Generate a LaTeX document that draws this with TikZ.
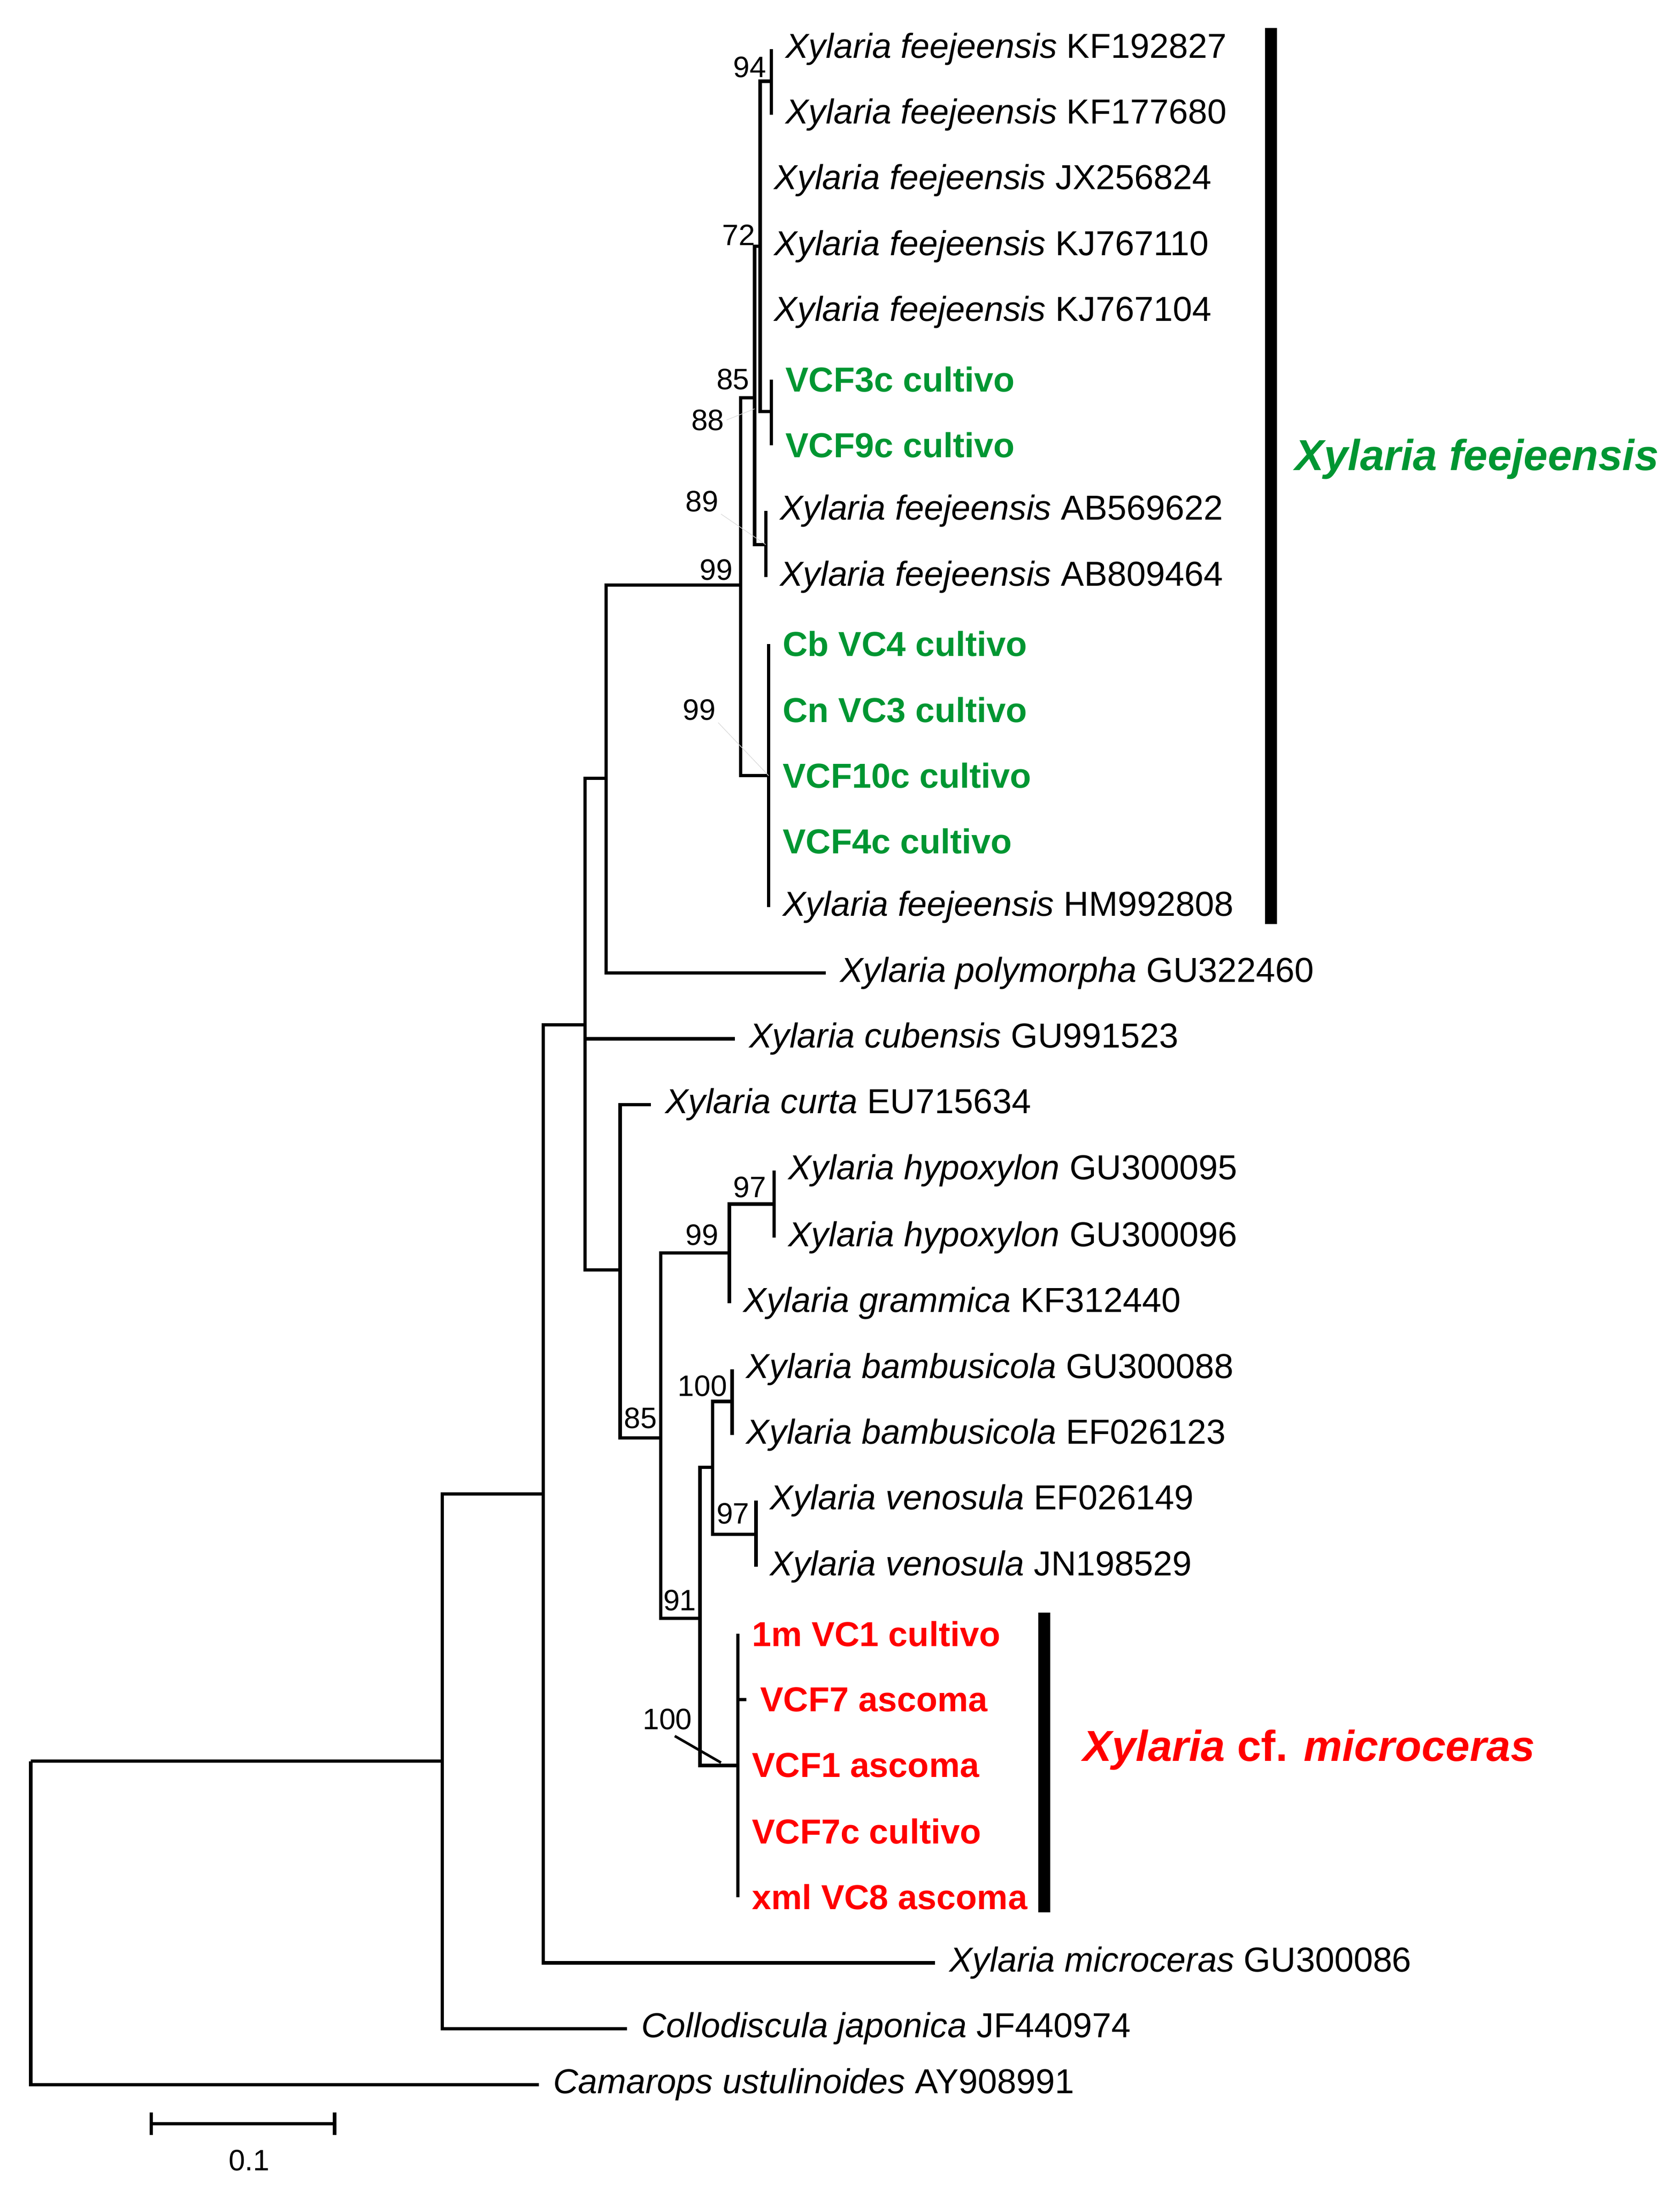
\documentclass[tikz,border=0pt]{standalone}
\usepackage{fontspec}
\setmainfont{Liberation Sans}
\usepackage{tikz}
\usetikzlibrary{positioning}
\definecolor{fgreen}{RGB}{0,150,50}
\definecolor{mred}{RGB}{255,0,0}
\tikzset{
  tip/.style={anchor=west,inner xsep=7pt,inner ysep=0pt,font=\fontsize{17.6}{20}\selectfont},
  gtip/.style={tip,text=fgreen,font=\fontsize{17.6}{20}\selectfont\bfseries},
  rtip/.style={tip,text=mred,font=\fontsize{17.6}{20}\selectfont\bfseries},
  boot/.style={anchor=east,inner sep=1pt,font=\fontsize{15}{18}\selectfont},
  branch/.style={line width=1.7pt},
  bar/.style={line width=6pt}
}
\newcommand{\xf}{\textit{Xylaria feejeensis}}
\begin{document}
\begin{tikzpicture}[x=0.025cm,y=-0.025cm]
  \useasboundingbox (0,0) rectangle (1200,1565);
  % tips
  \node[tip] (f1) at (551,35) {\xf{} KF192827};
  \node[tip] (f2) at (551,82) {\xf{} KF177680};
  \node[tip] (f3) at (543,129) {\xf{} JX256824};
  \node[tip] (f4) at (543,176) {\xf{} KJ767110};
  \node[tip] (f5) at (543,223) {\xf{} KJ767104};
  \node[gtip] (g1) at (551,271) {VCF3c cultivo};
  \node[gtip] (g2) at (551,318) {VCF9c cultivo};
  \node[tip] (f6) at (547,365) {\xf{} AB569622};
  \node[tip] (f7) at (547,412) {\xf{} AB809464};
  \node[gtip] (g3) at (549,460) {Cb VC4 cultivo};
  \node[gtip] (g4) at (549,507) {Cn VC3 cultivo};
  \node[gtip] (g5) at (549,554) {VCF10c cultivo};
  \node[gtip] (g6) at (549,601) {VCF4c cultivo};
  \node[tip] (f8) at (549,648) {\xf{} HM992808};
  \node[tip] (poly) at (590,695) {\textit{Xylaria polymorpha} GU322460};
  \node[tip] (cub) at (525,742) {\textit{Xylaria cubensis} GU991523};
  \node[tip] (curt) at (465,789) {\textit{Xylaria curta} EU715634};
  \node[tip] (hyp1) at (553,836) {\textit{Xylaria hypoxylon} GU300095};
  \node[tip] (hyp2) at (553,884) {\textit{Xylaria hypoxylon} GU300096};
  \node[tip] (gram) at (521,931) {\textit{Xylaria grammica} KF312440};
  \node[tip] (bam1) at (523,978) {\textit{Xylaria bambusicola} GU300088};
  \node[tip] (bam2) at (523,1025) {\textit{Xylaria bambusicola} EF026123};
  \node[tip] (ven1) at (540,1072) {\textit{Xylaria venosula} EF026149};
  \node[tip] (ven2) at (540,1119) {\textit{Xylaria venosula} JN198529};
  \node[rtip] (m1) at (527,1167) {1m VC1 cultivo};
  \node[rtip] (m2) at (533,1214) {VCF7 ascoma};
  \node[rtip] (m3) at (527,1261) {VCF1 ascoma};
  \node[rtip] (m4) at (527,1308) {VCF7c cultivo};
  \node[rtip] (m5) at (527,1355) {xml VC8 ascoma};
  \node[tip] (micr) at (668,1402) {\textit{Xylaria microceras} GU300086};
  \node[tip] (coll) at (448,1449) {\textit{Collodiscula japonica} JF440974};
  \node[tip] (cam) at (385,1489) {\textit{Camarops ustulinoides} AY908991};

  % internal nodes
  \coordinate (n94) at (551,58);
  \coordinate (n3c) at (551,294);
  \coordinate (n72) at (543,176);
  \coordinate (n89) at (547,389);
  \coordinate (n85) at (539,284);
  \coordinate (nlo) at (549,554);
  \coordinate (n99) at (529,418);
  \coordinate (nfe) at (433,556);
  \coordinate (nhy) at (553,860);
  \coordinate (nhg) at (521,895);
  \coordinate (nbam) at (523,1001);
  \coordinate (nven) at (540,1096);
  \coordinate (nbv) at (509,1048);
  \coordinate (nmic) at (527,1261);
  \coordinate (n91) at (500,1156);
  \coordinate (n85b) at (472,1027);
  \coordinate (ncur) at (443,907);
  \coordinate (ncub) at (418,732);
  \coordinate (nmi) at (388,1067);
  \coordinate (ncol) at (316,1258);
  \coordinate (root) at (22,1258);

  % branches
  \begin{scope}[branch]
    \draw (n94) |- (f1.west); \draw (n94) |- (f2.west);
    \draw (n3c) |- (g1.west); \draw (n3c) |- (g2.west);
    \draw (n72) |- (n94); \draw (n72) |- (f3.west); \draw (n72) -- (f4.west);
    \draw (n72) |- (f5.west); \draw (n72) |- (n3c);
    \draw (n89) |- (f6.west); \draw (n89) |- (f7.west);
    \draw (n85) |- (n72); \draw (n85) |- (n89);
    \draw (nlo) |- (g3.west); \draw (nlo) |- (f8.west);
    \draw (n99) |- (n85); \draw (n99) |- (nlo);
    \draw (nfe) |- (n99); \draw (nfe) |- (poly.west);
    \draw (nhy) |- (hyp1.west); \draw (nhy) |- (hyp2.west);
    \draw (nhg) |- (nhy); \draw (nhg) |- (gram.west);
    \draw (nbam) |- (bam1.west); \draw (nbam) |- (bam2.west);
    \draw (nven) |- (ven1.west); \draw (nven) |- (ven2.west);
    \draw (nbv) |- (nbam); \draw (nbv) |- (nven);
    \draw (nmic) |- (m1.west); \draw (nmic) |- (m5.west); \draw (nmic |- m2) -- (m2.west);
    \draw (n91) |- (nbv); \draw (n91) |- (nmic);
    \draw (n85b) |- (nhg); \draw (n85b) |- (n91);
    \draw (ncur) |- (curt.west); \draw (ncur) |- (n85b);
    \draw (ncub) |- (nfe); \draw (ncub |- cub) -- (cub.west); \draw (ncub) |- (ncur);
    \draw (nmi) |- (ncub); \draw (nmi) |- (micr.west);
    \draw (ncol) |- (nmi); \draw (ncol) |- (coll.west);
    \draw (root) |- (ncol); \draw (root) |- (cam.west);
  \end{scope}

  % bootstrap values
  \node[boot] (b94) at (549,48) {94};
  \node[boot] (b72) at (541,168) {72};
  \node[boot] (b85) at (537,271) {85};
  \node[boot] (b88) at (519,300) {88};
  \node[boot] (b89) at (515,358) {89};
  \node[boot] (b99) at (525,407) {99};
  \node[boot] (b99l) at (513,507) {99};
  \node[boot] (b97) at (549,848) {97};
  \node[boot] (b99h) at (515,882) {99};
  \node[boot] (b100) at (521,990) {100};
  \node[boot] (b85b) at (471,1013) {85};
  \node[boot] (b97v) at (537,1081) {97};
  \node[boot] (b91) at (499,1143) {91};
  \node[boot] (b100m) at (496,1228) {100};
  \draw[line width=0.3pt,gray!30] (b88.east) -- (539,292);
  \draw[line width=0.3pt,gray!30] (b89.south east) -- (547,389);
  \draw[line width=0.3pt,gray!30] (b99l.south east) -- (549,554);
  \draw[line width=1.3pt] (482,1240) -- (515,1259);

  % clade bars
  \draw[bar] (908,20) -- (908,660);
  \draw[bar] (746,1152) -- (746,1366);
  \node[text=fgreen,font=\fontsize{22}{26}\selectfont\bfseries\itshape] (cfee) at (1055,328) {Xylaria feejeensis};
  \node[text=mred,font=\fontsize{22}{26}\selectfont\bfseries] (cmic) at (935,1250) {\textit{Xylaria} cf. \textit{microceras}};

  % scale bar
  \coordinate (s1) at (108,1517);
  \coordinate (s2) at (239,1517);
  \draw[branch] (s1) -- (s2);
  \draw[branch] ([yshift=-0.2cm]s1) -- ([yshift=0.2cm]s1);
  \draw[branch] ([yshift=-0.2cm]s2) -- ([yshift=0.2cm]s2);
  \node[font=\fontsize{15}{18}\selectfont] (sl) at (178,1543) {0.1};
\end{tikzpicture}
\end{document}
